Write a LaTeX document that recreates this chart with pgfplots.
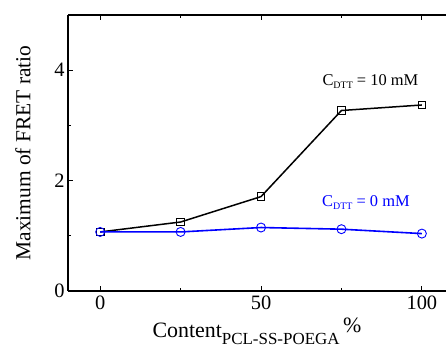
\documentclass[border=0pt]{standalone}
\usepackage{pgfplots}
\pgfplotsset{compat=1.18}
\usepackage{fontspec}
\setmainfont{Liberation Serif}
\begin{document}
\begin{tikzpicture}[x=1bp,y=1bp]
\useasboundingbox (0,0) rectangle (446,351);
\begin{axis}[
  at={(68bp,60bp)}, anchor=south west,
  scale only axis, width=378bp, height=276bp,
  xmin=-10, xmax=107.5, ymin=0, ymax=5,
  axis x line=box, axis y line*=left,
  axis line style={line width=1.6bp},
  xtick={0,50,100}, minor xtick={25,75},
  ytick={0,2,4}, minor ytick={1,3},
  tick align=inside,
  major tick length=5bp, minor tick length=3bp,
  tick style={line width=1bp, black},
  /pgf/number format/assume math mode=true,
  ticklabel style={font=\fontsize{20.5}{20.5}\selectfont},
  xticklabel style={yshift=-1bp},
  ylabel={Maximum of FRET ratio},
  ylabel style={font=\fontsize{21.5}{21.5}\selectfont, at={(axis description cs:0,0.5)}, anchor=south, yshift=34bp},
  xlabel={Content\raisebox{-7bp}{\fontsize{17}{17}\selectfont PCL-SS-POEGA}\,\raisebox{5bp}{\%}},
  xlabel style={font=\fontsize{22}{22}\selectfont, yshift=-2bp},
  clip=false,
]
\addplot[black, line width=1.5bp, mark=square, mark size=3.8bp, mark options={solid, line width=0.9bp, fill=white}]
  coordinates {(0,1.07) (25,1.25) (50,1.71) (75,3.27) (100,3.37)};
\addplot[blue, line width=1.6bp, mark=o, mark size=4.5bp, mark options={solid, line width=0.9bp, fill=white}]
  coordinates {(0,1.07) (25,1.07) (50,1.15) (75,1.12) (100,1.04)};
\node[font=\fontsize{16.5}{16.5}\selectfont] at (axis cs:84,3.8) {C\raisebox{-3bp}{\fontsize{10}{10}\selectfont DTT} = 10 mM};
\node[font=\fontsize{16.5}{16.5}\selectfont, text=blue] at (axis cs:82.6,1.6) {C\raisebox{-3bp}{\fontsize{10}{10}\selectfont DTT} = 0 mM};
\end{axis}
\end{tikzpicture}
\end{document}
